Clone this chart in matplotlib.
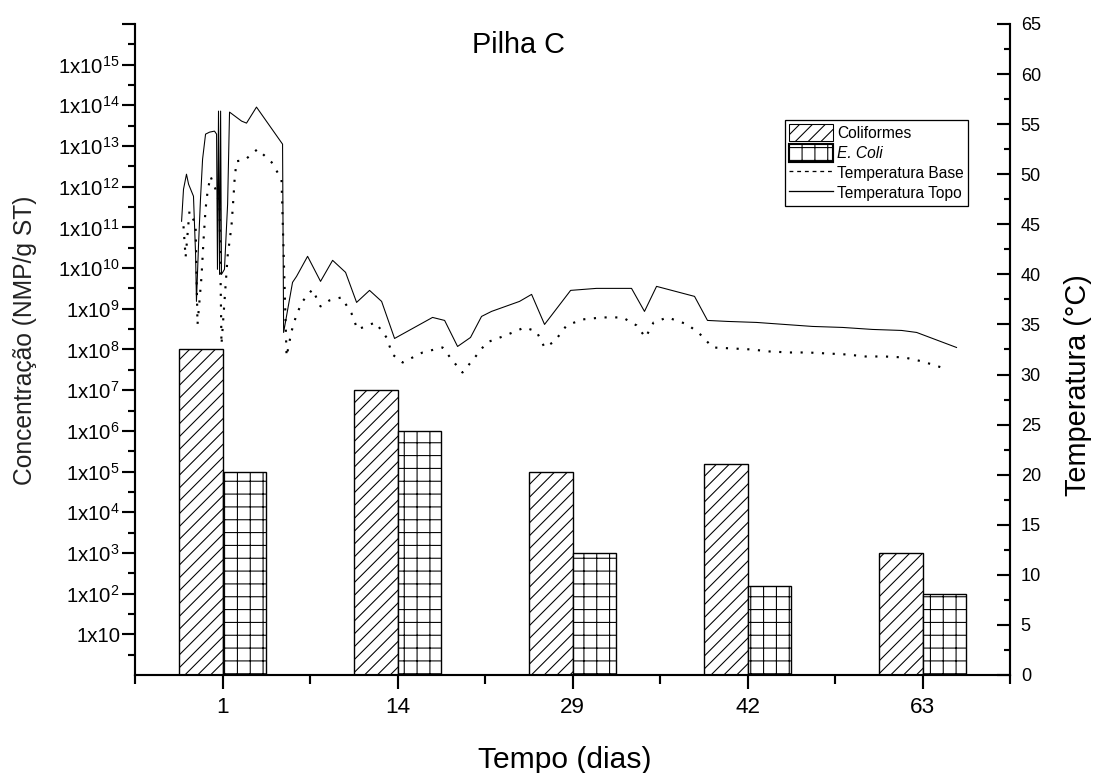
import matplotlib
matplotlib.use('Agg')
import matplotlib.pyplot as plt
import numpy as np
from matplotlib.patches import Patch
from matplotlib.lines import Line2D
from matplotlib.ticker import FixedLocator, FixedFormatter, MultipleLocator, NullFormatter

plt.rcParams['font.family'] = ['Liberation Sans', 'DejaVu Sans']
plt.rcParams['mathtext.fontset'] = 'custom'
plt.rcParams['mathtext.rm'] = 'Liberation Sans'
plt.rcParams['mathtext.default'] = 'regular'
plt.rcParams['hatch.linewidth'] = 1.0

# dados
dias = ['1', '14', '29', '42', '63']
coliformes = [1e8, 1e7, 1e5, 1.5e5, 1e3]
e_coli = [1e5, 1e6, 1e3, 1.5e2, 1e2]

# temperatura (posicao ao longo do eixo: 1 = dia 1, 2 = dia 14, ...)
pos_topo = [0.766, 0.777, 0.794, 0.806, 0.834, 0.846, 0.851, 0.863, 0.874, 0.886,
            0.903, 0.926, 0.954, 0.966, 0.971, 0.977, 0.983, 0.989, 0.994, 1.011,
            1.029, 1.040, 1.109, 1.137, 1.194, 1.343, 1.349, 1.400, 1.423, 1.486,
            1.560, 1.629, 1.703, 1.766, 1.840, 1.909, 1.983, 2.200, 2.269, 2.343,
            2.417, 2.480, 2.537, 2.697, 2.766, 2.840, 2.989, 3.137, 3.337, 3.411,
            3.480, 3.697, 3.771, 3.886, 4.051, 4.211, 4.371, 4.543, 4.714, 4.880,
            4.966, 5.194]
temp_topo = [45.3, 48.5, 50.0, 49.0, 47.8, 42.0, 37.3, 43.0, 47.5, 51.5,
             54.0, 54.2, 54.3, 54.0, 40.5, 56.3, 40.0, 56.3, 40.0, 40.5,
             47.0, 56.2, 55.3, 55.1, 56.7, 53.0, 34.2, 39.2, 39.8, 41.8,
             39.3, 41.4, 40.2, 37.2, 38.4, 37.3, 33.6, 35.7, 35.4, 32.8,
             33.7, 35.8, 36.3, 37.3, 38.0, 35.0, 38.4, 38.6, 38.6, 36.3,
             38.8, 37.8, 35.4, 35.3, 35.2, 35.0, 34.8, 34.7, 34.5, 34.4,
             34.2, 32.7]

pos_base = [0.777, 0.789, 0.811, 0.846, 0.857, 0.880, 0.891, 0.903, 0.914, 0.931,
            0.960, 0.983, 0.994, 1.006, 1.029, 1.051, 1.063, 1.069, 1.080, 1.126,
            1.200, 1.280, 1.337, 1.366, 1.394, 1.423, 1.457, 1.514, 1.560, 1.611,
            1.680, 1.737, 1.771, 1.874, 1.937, 1.971, 2.029, 2.143, 2.257, 2.314,
            2.371, 2.446, 2.509, 2.617, 2.726, 2.794, 2.840, 2.897, 2.966, 3.057,
            3.171, 3.286, 3.366, 3.417, 3.463, 3.543, 3.657, 3.737, 3.800, 3.914,
            4.023, 4.126, 4.240, 4.343, 4.457, 4.566, 4.674, 4.783, 4.897, 5.000,
            5.109]
temp_base = [44.8, 41.7, 46.3, 45.0, 35.0, 39.8, 43.3, 46.5, 48.2, 49.8,
             48.5, 47.0, 33.0, 36.0, 41.8, 44.8, 47.8, 49.5, 51.3, 51.4,
             52.5, 51.2, 49.5, 31.8, 34.3, 36.0, 37.3, 38.5, 36.8, 37.4,
             37.7, 36.1, 34.5, 35.2, 33.7, 32.0, 31.2, 32.2, 32.7, 31.4,
             30.2, 31.8, 33.2, 33.9, 34.7, 34.3, 32.7, 33.3, 34.9, 35.5,
             35.7, 35.7, 34.9, 33.7, 35.2, 35.7, 35.0, 33.9, 32.7, 32.6,
             32.5, 32.3, 32.2, 32.2, 32.1, 32.0, 31.8, 31.8, 31.7, 31.3,
             30.7]

fig = plt.figure(figsize=(1096 / 77, 773 / 77), dpi=77)
ax = fig.add_axes([0.1232, 0.1268, 0.7984, 0.8422])
ax.set_yscale('log')

x = np.arange(1, len(dias) + 1)
w = 0.25
ax.bar(x - w / 2, np.array(coliformes) - 1, bottom=1, width=w, facecolor='white',
       edgecolor='black', hatch='//', linewidth=1.3, zorder=2)
ax.bar(x + w / 2, np.array(e_coli) - 1, bottom=1, width=w, facecolor='white',
       edgecolor='black', hatch='+', linewidth=1.3, zorder=2)

ax.set_xlim(0.5, 5.5)
ax.set_ylim(1, 1e16)
ax.set_xticks(x)
ax.set_xticklabels(dias, fontsize=21)
ax.xaxis.set_minor_locator(FixedLocator(np.arange(0.5, 6, 1)))

exps = np.arange(1, 17)
labels = []
for n in exps:
    if n == 1:
        labels.append('1x10')
    elif n == 16:
        labels.append('')
    else:
        labels.append('1x10$^{%d}$' % n)
ax.yaxis.set_major_locator(FixedLocator(10.0 ** exps))
ax.yaxis.set_major_formatter(FixedFormatter(labels))
ax.yaxis.set_minor_locator(FixedLocator(10.0 ** np.arange(0.5, 16, 1)))
ax.yaxis.set_minor_formatter(NullFormatter())

ax.tick_params(axis='y', which='major', direction='out', length=12, width=2, labelsize=19, pad=2)
ax.tick_params(axis='y', which='minor', direction='out', length=7, width=2)
ax.tick_params(axis='x', which='major', direction='out', length=13, width=2, pad=8)
ax.tick_params(axis='x', which='minor', direction='out', length=8, width=2)

for s in ['left', 'bottom']:
    ax.spines[s].set_linewidth(2)
ax.spines['top'].set_visible(False)
ax.spines['right'].set_visible(False)

# temperatura
ax2 = ax.twinx()
ax2.plot(pos_topo, temp_topo, color='black', lw=1.0, zorder=3)
ax2.plot(pos_base, temp_base, color='black', lw=2.0, linestyle=(0, (1, 4)), zorder=3)
ax2.set_ylim(0, 65)
ax2.yaxis.set_major_locator(MultipleLocator(5))
ax2.yaxis.set_minor_locator(MultipleLocator(2.5))
ax2.tick_params(axis='y', which='major', direction='in', length=12, width=2, labelsize=17, pad=10)
ax2.tick_params(axis='y', which='minor', direction='in', length=6, width=2)
ax2.spines['right'].set_linewidth(2)
ax2.spines['top'].set_visible(False)
ax2.spines['left'].set_visible(False)
ax2.spines['bottom'].set_visible(False)

ax.text(0.438, 0.968, 'Pilha C', transform=ax.transAxes, ha='center', va='center', fontsize=27)
fig.text(565 / 1096, 1 - 760 / 773, 'Tempo (dias)', ha='center', va='center', fontsize=28)
fig.text(25 / 1096, 1 - 340 / 773, 'Concentração (NMP/g ST)', rotation=90,
         ha='center', va='center', fontsize=23, color='#222222')
fig.text(1078 / 1096, 1 - 385 / 773, 'Temperatura (°C)', rotation=90,
         ha='center', va='center', fontsize=27)

handles = [Patch(facecolor='white', edgecolor='black', hatch='//'),
           Patch(facecolor='white', edgecolor='black', hatch='+', linewidth=2),
           Line2D([], [], color='black', lw=1.2, linestyle=(0, (3, 3))),
           Line2D([], [], color='black', lw=1.2)]
leg = ax2.legend(handles, ['Coliformes', 'E. Coli', 'Temperatura Base', 'Temperatura Topo'],
                 loc='upper right', bbox_to_anchor=(0.952, 0.853), borderaxespad=0,
                 fontsize=14.5, handlelength=2.8, handleheight=1.4, labelspacing=0.15,
                 handletextpad=0.3, borderpad=0.25, fancybox=False, framealpha=1)
leg.get_frame().set_edgecolor('black')
leg.get_frame().set_linewidth(1.2)
leg.get_texts()[1].set_fontstyle('italic')

fig.savefig('out.png', dpi=77)
